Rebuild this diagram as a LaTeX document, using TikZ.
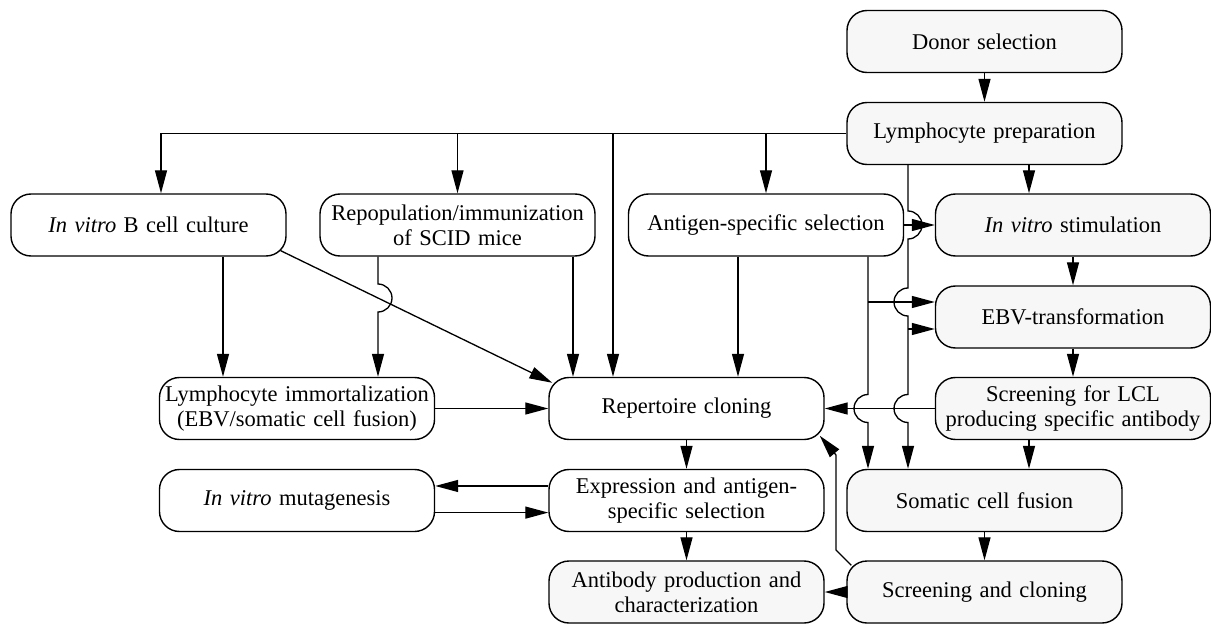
\documentclass[tikz,border=0pt]{standalone}
\usepackage{fontspec}
\setmainfont{Liberation Serif}
\usepackage{tikz}
\usetikzlibrary{arrows.meta, calc}
\tikzstyle{plainbox} = [rectangle, rounded corners=0.4cm,
  minimum width=5.5cm, minimum height=1.24cm,
  text centered, text width=5.36cm, inner sep=2pt,
  draw=black, line width=0.8pt, fill=white]
\tikzstyle{shadedbox} = [plainbox, fill=black!3]
\tikzstyle{arrow} = [line width=0.75pt,-{Triangle[length=0.46cm, width=0.24cm]}]

\begin{document}
\begin{tikzpicture}[font=\fontsize{12.8}{14.4}\selectfont]
\useasboundingbox (0,0) rectangle (24.22,-12.5);

%% ---- DONOR / PREPARATION ----
\node (donor) [shadedbox] at (19.69, -0.83) {Donor selection};
\node (lymph) [shadedbox] at (19.69, -2.67) {Lymphocyte preparation};

%% ---- FIRST LEVEL ----
\node (invB)  [plainbox]  at (2.97,  -4.5) {\textit{In vitro} B cell culture};
\node (repop) [plainbox]  at (9.15,  -4.5) {Repopulation/immunization\\of SCID mice};
\node (antig) [plainbox]  at (15.32, -4.5) {Antigen-specific selection};
\node (stim)  [shadedbox] at (21.46, -4.5) {\textit{In vitro} stimulation};

\node (ebv)   [shadedbox] at (21.46, -6.34) {EBV-transformation};

%% ---- CLONING LEVEL ----
\node (immort) [plainbox]  at (5.94,  -8.17) {Lymphocyte immortalization\\(EBV/somatic cell fusion)};
\node (rep)    [plainbox]  at (13.73, -8.17) {Repertoire cloning};
\node (lcl)    [shadedbox] at (21.46, -8.17) {Screening for LCL\\producing specific antibody};

\node (mutag)  [plainbox]  at (5.94,  -10.01) {\textit{In vitro} mutagenesis};
\node (expr)   [plainbox]  at (13.73, -10.01) {Expression and antigen-\\specific selection};
\node (somat)  [shadedbox] at (19.69, -10.01) {Somatic cell fusion};

\node (anti)   [shadedbox] at (13.73, -11.84) {Antibody production and\\characterization};
\node (screen) [shadedbox] at (19.69, -11.84) {Screening and cloning};

%% ---- LANES FOR VERTICAL LINES ----
\coordinate (laneA) at (3.22, 0);
\coordinate (laneB) at (4.46, 0);
\coordinate (laneC) at (7.56, 0);
\coordinate (laneD) at (11.46, 0);
\coordinate (laneE) at (12.26, 0);
\coordinate (laneF) at (14.76, 0);
\coordinate (laneG) at (17.36, 0);
\coordinate (laneH) at (18.16, 0);
\coordinate (laneI) at (20.58, 0);

%% ---- FROM PREPARATION ----
\draw[arrow] (donor) -- (lymph);
\draw[arrow] (lymph.west) -| (invB.north -| laneA);
\draw[arrow] (repop.north |- lymph.west) -- (repop.north);
\draw[arrow] (lymph.west -| laneE) -- (rep.north -| laneE);
\draw[arrow] (antig.north |- lymph.west) -- (antig.north);
\draw[arrow] (lymph.south -| laneI) -- (stim.north -| laneI);
\draw[arrow] (lymph.south -| laneH) -- (18.16, -4.22)
  arc[start angle=90, end angle=-90, radius=0.28] -- (18.16, -5.76)
  arc[start angle=90, end angle=270, radius=0.28] -- (18.16, -7.89)
  arc[start angle=90, end angle=270, radius=0.28] -- (somat.north -| laneH);

%% ---- LEFT BRANCHES ----
\draw[arrow] (invB.south -| laneB) -- (immort.north -| laneB);
\draw[arrow] ($(invB.south east)+(-0.12,0.12)$) -- ($(rep.north west)+(0.08,-0.12)$);
\draw[arrow] (repop.south -| laneC) -- (7.56, -5.68)
  arc[start angle=90, end angle=-90, radius=0.28] -- (immort.north -| laneC);
\draw[arrow] (repop.south -| laneD) -- (rep.north -| laneD);
\draw[arrow] (immort.east) -- (rep.west);

%% ---- ANTIGEN-SPECIFIC SELECTION ----
\draw[arrow] (antig.east) -- (stim.west);
\draw[arrow] (antig.south -| laneF) -- (rep.north -| laneF);
\draw[arrow] (antig.south -| laneG) -- (17.36, -7.89)
  arc[start angle=90, end angle=270, radius=0.28] -- (somat.north -| laneG);
\coordinate (jG) at (17.36, -6.04);
\coordinate (jH) at (18.16, -6.58);
\draw[arrow] (jG) -- (jG -| ebv.west);
\draw[arrow] (jH) -- (jH -| ebv.west);

%% ---- EBV COLUMN ----
\draw[arrow] (stim) -- (ebv);
\draw[arrow] (ebv) -- (lcl);
\draw[arrow] (lcl.west) -- (rep.east);
\draw[arrow] (lcl.south -| laneI) -- (somat.north -| laneI);
\draw[arrow] (somat) -- (screen);
\draw[arrow] (screen.west) -- (anti.east);
\draw[arrow] ($(screen.north west)+(0.1,-0.1)$) -- (16.72, -11.0) -- (16.72, -9.1)
  -- ($(rep.south east)+(-0.1,0.09)$);

%% ---- EXPRESSION ----
\draw[arrow] (rep) -- (expr);
\draw[arrow] (expr.174) -- (mutag.6);
\draw[arrow] (mutag.-5) -- (expr.185);
\draw[arrow] (expr) -- (anti);

\end{tikzpicture}
\end{document}
